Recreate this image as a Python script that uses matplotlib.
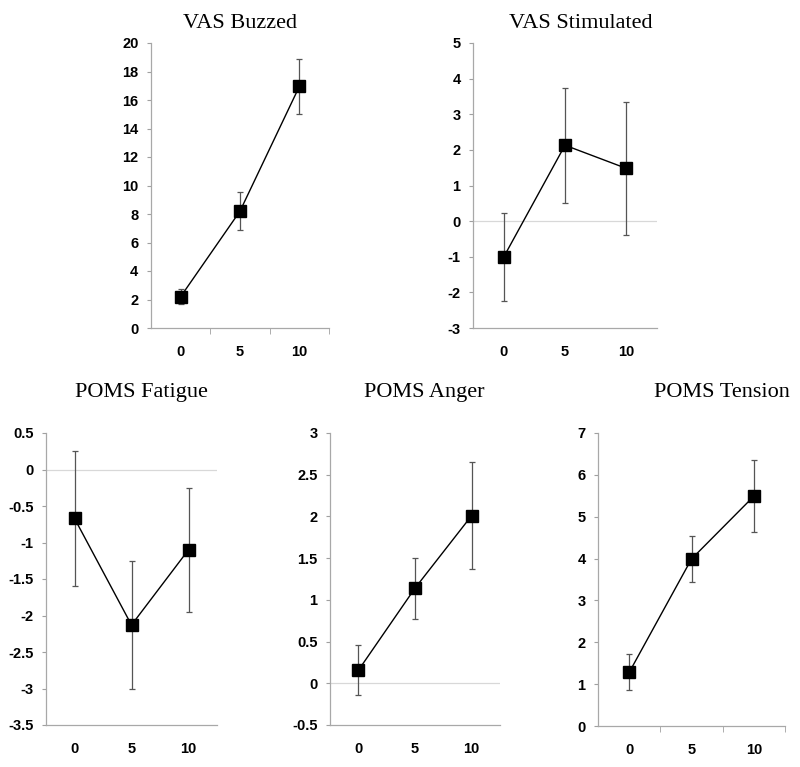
import matplotlib.pyplot as plt

# dose groups (x categories)
doses = ['0', '5', '10']

# means and error bars
buzzed = [2.2, 8.2, 16.95]
buzzed_err = [0.52, 1.32, 1.93]

stimulated = [-1.01, 2.13, 1.48]
stimulated_err = [1.24, 1.61, 1.87]

fatigue = [-0.67, -2.13, -1.10]
fatigue_err = [0.92, 0.88, 0.85]

anger = [0.155, 1.14, 2.01]
anger_err = [0.30, 0.365, 0.645]

tension = [1.28, 3.99, 5.49]
tension_err = [0.43, 0.545, 0.865]

W, H = 800, 767
fig = plt.figure(figsize=(8, 7.67), dpi=100)


def px_axes(x0, x1, y0, y1):
    return fig.add_axes([x0 / W, 1 - y1 / H, (x1 - x0) / W, (y1 - y0) / H])


def panel(ax, means, errs, ylim, step, fmt, zero_line, minor):
    x = range(len(doses))
    ax.errorbar(x, means, yerr=errs, fmt='none', ecolor='#555555',
                elinewidth=0.9, capsize=2.5, capthick=0.9, zorder=2)
    ax.plot(x, means, color='black', lw=1.0, marker='s', ms=8.5,
            mfc='black', mec='black', zorder=3)
    if zero_line:
        ax.axhline(0, color='#d8d8d8', lw=0.9, zorder=1)
    ax.set_xlim(-0.5, 2.5)
    ax.set_ylim(*ylim)
    n = int(round((ylim[1] - ylim[0]) / step))
    ticks = [ylim[0] + i * step for i in range(n + 1)]
    ax.set_yticks(ticks)
    ax.set_yticklabels([fmt(t) for t in ticks])
    ax.set_xticks(list(x))
    ax.set_xticklabels(doses)
    if minor:
        ax.set_xticks([0.5, 1.5, 2.5], minor=True)
    ax.tick_params(axis='x', which='major', length=0, pad=12)
    ax.tick_params(axis='x', which='minor', length=4, color='#a0a0a0',
                   direction='out')
    ax.tick_params(axis='y', length=3, color='#a0a0a0', pad=6)
    for lab in ax.get_xticklabels() + ax.get_yticklabels():
        lab.set_fontfamily('Liberation Sans')
        lab.set_fontweight('bold')
        lab.set_fontsize(10.5)
    for s in ['top', 'right']:
        ax.spines[s].set_visible(False)
    for s in ['left', 'bottom']:
        ax.spines[s].set_color('#a8a8a8')
        ax.spines[s].set_linewidth(0.9)


def fmt_int(v):
    return '%d' % round(v)


def fmt_half(v):
    v = round(v * 2) / 2
    return ('%g' % v)


ax1 = px_axes(151, 329, 43, 328)
panel(ax1, buzzed, buzzed_err, (0, 20), 2, fmt_int, False, True)

ax2 = px_axes(473, 657, 43, 328)
panel(ax2, stimulated, stimulated_err, (-3, 5), 1, fmt_int, True, False)

ax3 = px_axes(46, 217, 433, 725)
panel(ax3, fatigue, fatigue_err, (-3.5, 0.5), 0.5, fmt_half, True, False)

ax4 = px_axes(330, 500, 433, 725)
panel(ax4, anger, anger_err, (-0.5, 3), 0.5, fmt_half, True, False)

ax5 = px_axes(598, 785, 433, 726)
panel(ax5, tension, tension_err, (0, 7), 1, fmt_int, False, True)

titles = [('VAS Buzzed', 240, 28), ('VAS Stimulated', 581, 28),
          ('POMS Fatigue', 141, 397), ('POMS Anger', 424, 397),
          ('POMS Tension', 722, 397)]
for t, x, y in titles:
    fig.text(x / W, 1 - y / H, t, ha='center', va='baseline',
             family='Liberation Serif', fontsize=16)

fig.savefig('out.png', dpi=100, facecolor='white')
